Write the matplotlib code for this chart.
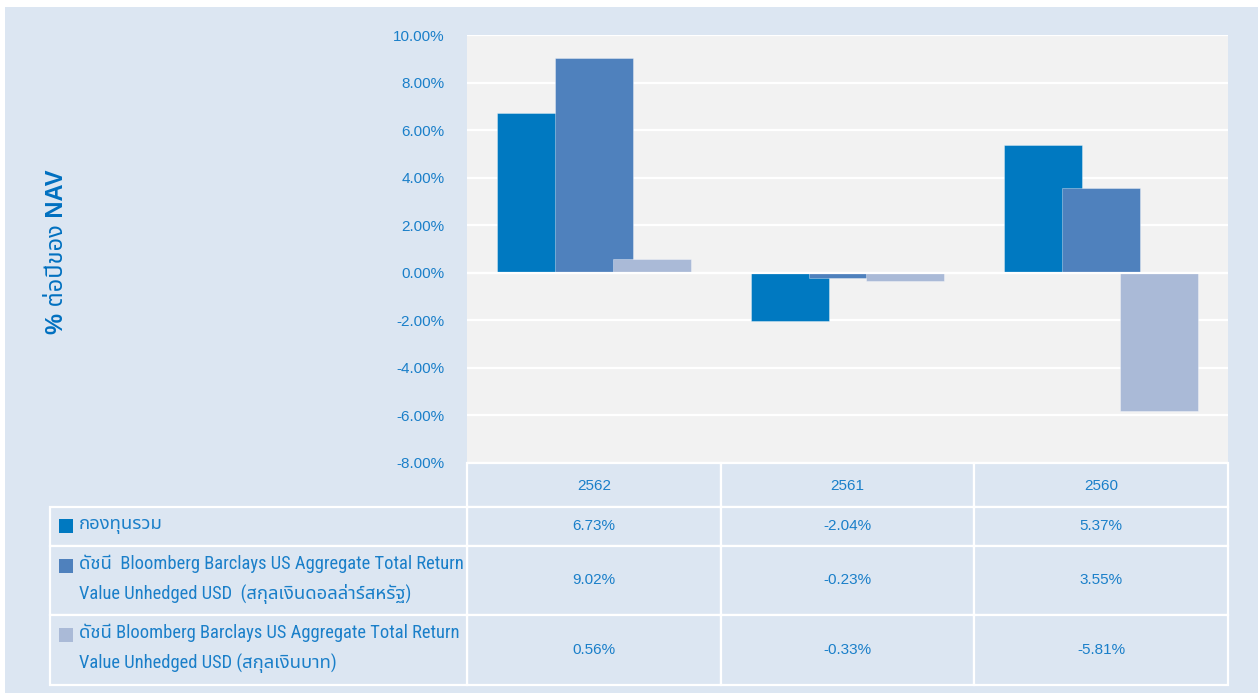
import matplotlib
matplotlib.use("Agg")
import matplotlib.pyplot as plt
import numpy as np
from matplotlib.patches import Rectangle
from matplotlib.transforms import blended_transform_factory

# data
years = ['2562', '2561', '2560']
fund = [6.73, -2.04, 5.37]
index_usd = [9.02, -0.23, 3.55]
index_thb = [0.56, -0.33, -5.81]

series_labels = [
    ['กองทุนรวม'],
    ['ดัชนี  Bloomberg Barclays US Aggregate Total Return',
     'Value Unhedged USD  (สกุลเงินดอลล่าร์สหรัฐ)'],
    ['ดัชนี Bloomberg Barclays US Aggregate Total Return',
     'Value Unhedged USD (สกุลเงินบาท)'],
]
series = [fund, index_usd, index_thb]
colors = ['#0079c1', '#4f81bd', '#aabad7']
yticks = [-8, -6, -4, -2, 0, 2, 4, 6, 8, 10]

BG = '#dce6f2'
PLOT_BG = '#f2f2f2'
TXT = '#1a7fc9'
W, H = 1258, 693

latin = ['Liberation Sans', 'Noto Sans Thai']
narrow = ['Roboto Condensed', 'Noto Sans Thai']


def fx(x):
    return x / W


def fy(y):
    return 1 - y / H


fig = plt.figure(figsize=(W / 100, H / 100), dpi=100)
fig.patch.set_facecolor('white')
fig.add_artist(Rectangle((fx(5), 0), 1 - fx(5), fy(7), transform=fig.transFigure,
                         facecolor=BG, edgecolor='none', zorder=0))

# chart area
ax_l, ax_r, ax_t, ax_b = 467, 1228, 35, 463
ax = fig.add_axes([fx(ax_l), fy(ax_b), fx(ax_r - ax_l), (ax_b - ax_t) / H])
ax.set_facecolor(PLOT_BG)

x = np.arange(len(years))
width = 0.307
offsets = [-0.228, 0, 0.228]
for vals, off, c in zip(series, offsets, colors):
    ax.bar(x + off, vals, width=width, color=c, edgecolor=(1, 1, 1, 0.35),
           linewidth=0.7, zorder=2)
ax.axhline(0, color='white', lw=1.6, zorder=3)

ax.set_xlim(-0.5, len(years) - 0.5)
ax.set_ylim(-8, 10)
ax.set_yticks(yticks)
ax.set_yticklabels(['{:.2f}%'.format(v) for v in yticks])
ax.set_xticks([])
ax.yaxis.grid(True, color='white', lw=1.6)
ax.set_axisbelow(True)
for s in ax.spines.values():
    s.set_visible(False)
ax.tick_params(axis='y', length=0, pad=16, labelcolor=TXT, labelsize=11)
for t in ax.get_yticklabels():
    t.set_family(latin)

fig.text(fx(57), fy(252), '% ต่อปีของ NAV', rotation=90, ha='center', va='center',
         fontsize=17, fontweight='bold', color='#0070c0', family=latin)

# table under the chart
tr = blended_transform_factory(ax.transData, fig.transFigure)
row_edges = [463, 507, 546, 615, 685]
cell_kw = dict(facecolor=BG, edgecolor='white', linewidth=1.6, clip_on=False, zorder=1)

for i in range(len(years)):
    for r in range(len(row_edges) - 1):
        y0, y1 = row_edges[r], row_edges[r + 1]
        fig.add_artist(Rectangle((i - 0.5, fy(y1)), 1, (y1 - y0) / H, transform=tr, **cell_kw))
    fig.text(i, fy((row_edges[0] + row_edges[1]) / 2 + 1), years[i], transform=tr,
             ha='center', va='center', fontsize=11, color=TXT, family=latin)
    for r, vals in enumerate(series):
        yc = (row_edges[r + 1] + row_edges[r + 2]) / 2
        fig.text(i, fy(yc), '{:.2f}%'.format(vals[i]), transform=tr,
                 ha='center', va='center', fontsize=11, color=TXT, family=latin)

# label column
lab_l = 50
for r in range(len(series)):
    y0, y1 = row_edges[r + 1], row_edges[r + 2]
    fig.add_artist(Rectangle((fx(lab_l), fy(y1)), fx(ax_l - lab_l), (y1 - y0) / H,
                             transform=fig.transFigure, **cell_kw))

# fit the label font so the long line fills the cell, as in the source
fig.canvas.draw()
probe = fig.text(0, 0, series_labels[1][0], fontsize=12, family=narrow)
w = probe.get_window_extent(fig.canvas.get_renderer()).width
probe.remove()
lab_size = 12 * 385 / w

line_y = [[525], [564, 594], [633, 663]]
square_y = [526, 566, 635]
for r, lines in enumerate(series_labels):
    fig.add_artist(Rectangle((fx(59), fy(square_y[r] + 7)), fx(14), 14 / H,
                             transform=fig.transFigure, facecolor=colors[r],
                             edgecolor='none', zorder=2))
    for txt, yy in zip(lines, line_y[r]):
        fig.text(fx(79), fy(yy), txt, ha='left', va='center', fontsize=lab_size,
                 color=TXT, family=narrow)

fig.savefig('out.png', dpi=100, facecolor=fig.get_facecolor())
